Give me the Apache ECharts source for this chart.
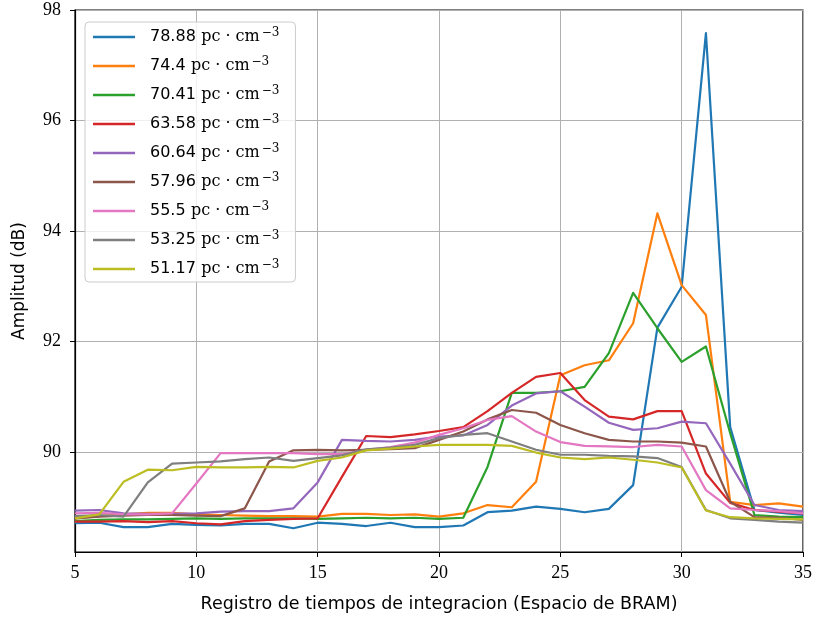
<!DOCTYPE html>
<html>
<head>
<meta charset="utf-8">
<script src="https://cdn.jsdelivr.net/npm/echarts@6/dist/echarts.min.js"></script>
<style>
  html, body { margin: 0; padding: 0; background: #fff; }
  #chart { width: 815px; height: 618px; }
</style>
</head>
<body>
<div id="chart"></div>
<script>
// Integration-time register index (BRAM slots)
const registers = [5, 6, 7, 8, 9, 10, 11, 12, 13, 14, 15, 16, 17, 18, 19, 20,
  21, 22, 23, 24, 25, 26, 27, 28, 29, 30, 31, 32, 33, 34, 35];

// Dispersion measure of each trace (pc·cm^-3)
const dmLabels = ['78.88', '74.4', '70.41', '63.58', '60.64', '57.96', '55.5', '53.25', '51.17'];

// Amplitude in dB per register, one array per dispersion measure
const amp7888 = [88.71, 88.72, 88.64, 88.64, 88.70, 88.68, 88.67, 88.70, 88.70, 88.62,
  88.72, 88.70, 88.66, 88.72, 88.64, 88.64, 88.67, 88.91, 88.94, 89.01,
  88.97, 88.91, 88.97, 89.40, 92.25, 92.99, 97.58, 90.45, 88.95, 88.90, 88.86];
const amp744 = [88.80, 88.84, 88.87, 88.90, 88.90, 88.87, 88.86, 88.85, 88.84, 88.84,
  88.83, 88.88, 88.88, 88.86, 88.87, 88.83, 88.89, 89.04, 89.00, 89.46,
  91.39, 91.57, 91.66, 92.33, 94.32, 93.02, 92.48, 89.10, 89.04, 89.07, 89.01];
const amp7041 = [88.75, 88.77, 88.78, 88.78, 88.79, 88.80, 88.79, 88.80, 88.80, 88.80,
  88.79, 88.80, 88.81, 88.80, 88.81, 88.79, 88.81, 89.73, 91.07, 91.07,
  91.10, 91.18, 91.79, 92.88, 92.24, 91.63, 91.91, 90.34, 88.86, 88.83, 88.82];
const amp6358 = [88.74, 88.74, 88.75, 88.73, 88.75, 88.71, 88.69, 88.75, 88.77, 88.79,
  88.80, 89.55, 90.29, 90.27, 90.32, 90.38, 90.45, 90.74, 91.07, 91.36,
  91.43, 90.94, 90.64, 90.59, 90.74, 90.74, 89.61, 89.08, 88.95, 88.92, 88.89];
const amp6064 = [88.94, 88.95, 88.89, 88.88, 88.88, 88.89, 88.92, 88.93, 88.93, 88.98,
  89.45, 90.22, 90.20, 90.19, 90.22, 90.28, 90.30, 90.49, 90.84, 91.06,
  91.10, 90.82, 90.53, 90.40, 90.43, 90.55, 90.52, 89.79, 89.04, 88.95, 88.93];
const amp5796 = [88.80, 88.83, 88.85, 88.86, 88.86, 88.85, 88.84, 88.98, 89.83, 90.03,
  90.04, 90.03, 90.04, 90.05, 90.07, 90.22, 90.37, 90.59, 90.76, 90.71,
  90.49, 90.34, 90.22, 90.19, 90.19, 90.17, 90.10, 89.10, 88.82, 88.81, 88.77];
const amp555 = [88.89, 88.90, 88.87, 88.87, 88.89, 89.43, 89.98, 89.98, 89.98, 89.98,
  89.96, 89.96, 90.04, 90.09, 90.17, 90.31, 90.43, 90.58, 90.65, 90.37,
  90.18, 90.11, 90.10, 90.09, 90.13, 90.10, 89.31, 88.98, 88.95, 88.93, 88.89];
const amp5325 = [88.84, 88.86, 88.83, 89.45, 89.79, 89.81, 89.83, 89.87, 89.90, 89.84,
  89.89, 89.94, 90.05, 90.08, 90.13, 90.25, 90.31, 90.34, 90.19, 90.04,
  89.95, 89.95, 89.93, 89.92, 89.89, 89.73, 88.95, 88.80, 88.77, 88.74, 88.72];
const amp5117 = [88.80, 88.87, 89.46, 89.68, 89.67, 89.73, 89.72, 89.72, 89.73, 89.72,
  89.84, 89.90, 90.03, 90.06, 90.10, 90.13, 90.13, 90.13, 90.11, 89.99,
  89.90, 89.87, 89.90, 89.86, 89.81, 89.72, 88.94, 88.82, 88.80, 88.79, 88.78];

const yTicks = [90, 92, 94, 96, 98];

const traces = [amp7888, amp744, amp7041, amp6358, amp6064, amp5796, amp555, amp5325, amp5117];
const palette = ['#1f77b4', '#ff7f0e', '#2ca02c', '#d62728', '#9467bd',
  '#8c564b', '#e377c2', '#7f7f7f', '#bcbd22'];

const series = traces.map((vals, i) => ({
  name: dmLabels[i],
  type: 'line',
  data: registers.map((r, k) => [r, vals[k]]),
  showSymbol: false,
  symbol: 'none',
  lineStyle: { width: 2.2, color: palette[i], join: 'round' },
  itemStyle: { color: palette[i] },
  emphasis: { disabled: true },
  animation: false
}));

const chart = echarts.init(document.getElementById('chart'), null, { renderer: 'canvas' });
chart.setOption({
  backgroundColor: '#ffffff',
  animation: false,
  color: palette,
  grid: {
    left: 75, right: 10, top: 10, bottom: 66,
    show: true, borderColor: '#000', borderWidth: 1.2, backgroundColor: 'transparent'
  },
  legend: {
    orient: 'vertical',
    left: 85, top: 22,
    padding: [5, 8, 5, 8],
    itemWidth: 42, itemHeight: 2.5,
    itemGap: 11,
    icon: 'rect',
    backgroundColor: 'rgba(255,255,255,0.8)',
    borderColor: '#cccccc', borderWidth: 1, borderRadius: 4,
    selectedMode: false,
    formatter: name => '{n|' + name + '} {u|pc · cm}{s|−3}',
    textStyle: {
      color: '#000',
      rich: {
        n: { fontFamily: 'DejaVu Sans', fontSize: 16, lineHeight: 20, color: '#000', padding: [0, 0, 0, 10] },
        u: { fontFamily: 'DejaVu Serif', fontSize: 16, lineHeight: 20, color: '#000', padding: [0, 0, 0, 2] },
        s: { fontFamily: 'DejaVu Serif', fontSize: 12, lineHeight: 12, color: '#000', verticalAlign: 'top', padding: [0, 8, 0, 2] }
      }
    }
  },
  xAxis: {
    type: 'value',
    min: 5, max: 35, interval: 5,
    name: 'Registro de tiempos de integracion (Espacio de BRAM)',
    nameLocation: 'middle',
    nameGap: 43,
    nameTextStyle: { fontFamily: 'DejaVu Sans', fontSize: 17.5, color: '#000' },
    axisLine: { show: true, lineStyle: { color: '#000', width: 1.2 } },
    axisTick: { show: true, inside: false, length: 5, lineStyle: { color: '#000', width: 1 } },
    axisLabel: { fontFamily: 'Liberation Serif', fontSize: 18, color: '#000', margin: 12 },
    splitLine: { show: true, lineStyle: { color: '#b0b0b0', width: 1 } }
  },
  yAxis: {
    type: 'value',
    min: 88.19, max: 98,
    name: 'Amplitud (dB)',
    nameLocation: 'middle',
    nameGap: 47,
    nameTextStyle: { fontFamily: 'DejaVu Sans', fontSize: 17, color: '#000' },
    axisLine: { show: true, lineStyle: { color: '#000', width: 1.2 } },
    axisTick: { show: true, inside: false, length: 5, customValues: yTicks, lineStyle: { color: '#000', width: 1 } },
    axisLabel: { fontFamily: 'Liberation Serif', fontSize: 18, color: '#000', margin: 14, customValues: yTicks },
    splitLine: { show: true, lineStyle: { color: '#b0b0b0', width: 1 } }
  },
  series: series
});
</script>
</body>
</html>
